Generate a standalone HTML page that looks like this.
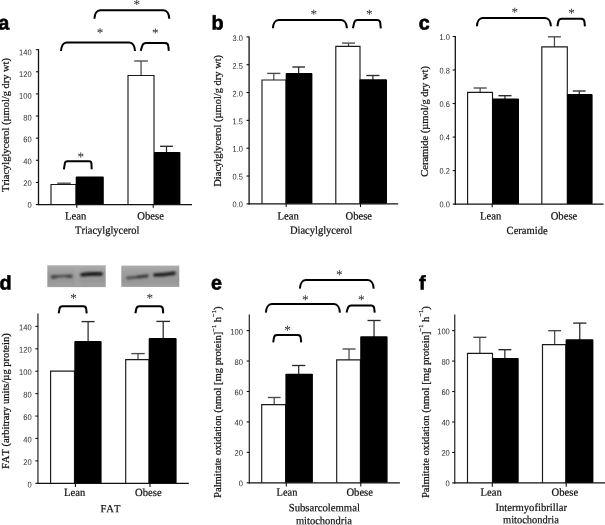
<!DOCTYPE html>
<html><head><meta charset="utf-8"><title>Figure</title>
<style>html,body{margin:0;padding:0;background:#fff;}svg{display:block;will-change:transform;filter:grayscale(1);}svg text{font-kerning:none;}</style>
</head><body>
<svg width="605" height="525" viewBox="0 0 605 525">
<defs><linearGradient id="bg1" x1="0" y1="0" x2="0" y2="1"><stop offset="0" stop-color="#adadad"/><stop offset="0.3" stop-color="#9e9e9e"/><stop offset="0.7" stop-color="#979797"/><stop offset="1" stop-color="#a0a0a0"/></linearGradient><filter id="blur1" x="-10%" y="-50%" width="120%" height="200%"><feGaussianBlur stdDeviation="0.9"/></filter><filter id="blur2" x="-5%" y="-5%" width="110%" height="110%"><feGaussianBlur stdDeviation="0.5"/></filter></defs>
<rect x="0" y="0" width="605" height="525" fill="#fff"/>
<text x="-1.70" y="29.50" font-family='"Liberation Sans", sans-serif' font-size="19.8" font-weight="bold" text-anchor="start" fill="#000" transform="rotate(0.05 -1.70 29.50)" stroke="#000" stroke-width="0.6" stroke-linejoin="round">a</text>
<text x="211.40" y="29.60" font-family='"Liberation Sans", sans-serif' font-size="19.8" font-weight="bold" text-anchor="start" fill="#000" transform="rotate(0.05 211.40 29.60)" stroke="#000" stroke-width="0.6" stroke-linejoin="round">b</text>
<text x="418.70" y="29.60" font-family='"Liberation Sans", sans-serif' font-size="19.8" font-weight="bold" text-anchor="start" fill="#000" transform="rotate(0.05 418.70 29.60)" stroke="#000" stroke-width="0.6" stroke-linejoin="round">c</text>
<text x="-0.50" y="289.50" font-family='"Liberation Sans", sans-serif' font-size="19.8" font-weight="bold" text-anchor="start" fill="#000" transform="rotate(0.05 -0.50 289.50)" stroke="#000" stroke-width="0.6" stroke-linejoin="round">d</text>
<text x="210.90" y="289.50" font-family='"Liberation Sans", sans-serif' font-size="19.8" font-weight="bold" text-anchor="start" fill="#000" transform="rotate(0.05 210.90 289.50)" stroke="#000" stroke-width="0.6" stroke-linejoin="round">e</text>
<text x="419.10" y="289.60" font-family='"Liberation Sans", sans-serif' font-size="19.8" font-weight="bold" text-anchor="start" fill="#000" transform="rotate(0.05 419.10 289.60)" stroke="#000" stroke-width="0.6" stroke-linejoin="round">f</text>
<line x1="64.05" y1="183.20" x2="64.05" y2="185.10" stroke="#4a4a4a" stroke-width="1.25" stroke-linecap="butt"/>
<line x1="57.30" y1="183.20" x2="70.80" y2="183.20" stroke="#4a4a4a" stroke-width="1.35" stroke-linecap="butt"/>
<line x1="141.05" y1="61.00" x2="141.05" y2="76.10" stroke="#4a4a4a" stroke-width="1.25" stroke-linecap="butt"/>
<line x1="134.20" y1="61.00" x2="147.90" y2="61.00" stroke="#4a4a4a" stroke-width="1.35" stroke-linecap="butt"/>
<line x1="166.50" y1="146.30" x2="166.50" y2="152.90" stroke="#2a2a2a" stroke-width="1.25" stroke-linecap="butt"/>
<line x1="160.10" y1="146.30" x2="172.90" y2="146.30" stroke="#2a2a2a" stroke-width="1.35" stroke-linecap="butt"/>
<path d="M51.00,204.55 V184.50 H76.00 V204.55" fill="#fff" stroke="#1a1a1a" stroke-width="1.15" stroke-linejoin="miter"/>
<path d="M128.00,204.55 V75.50 H154.00 V204.55" fill="#fff" stroke="#1a1a1a" stroke-width="1.15" stroke-linejoin="miter"/>
<rect x="75.70" y="176.60" width="28.10" height="27.95" fill="#000" rx="0.9"/>
<rect x="154.00" y="151.90" width="26.40" height="52.65" fill="#000" rx="0.9"/>
<line x1="38.50" y1="49.15" x2="38.50" y2="205.15" stroke="#111" stroke-width="1.3" stroke-linecap="butt"/>
<line x1="37.90" y1="204.55" x2="192.00" y2="204.55" stroke="#111" stroke-width="1.3" stroke-linecap="butt"/>
<line x1="35.90" y1="204.55" x2="38.50" y2="204.55" stroke="#111" stroke-width="1.1" stroke-linecap="butt"/>
<text x="31.70" y="207.75" font-family='"Liberation Sans", sans-serif' font-size="8.2" font-weight="normal" text-anchor="end" fill="#2a2a2a" textLength="4.20" lengthAdjust="spacingAndGlyphs" transform="rotate(0.05 31.70 207.75)">0</text>
<line x1="35.90" y1="182.42" x2="38.50" y2="182.42" stroke="#111" stroke-width="1.1" stroke-linecap="butt"/>
<text x="31.70" y="185.95" font-family='"Liberation Sans", sans-serif' font-size="8.2" font-weight="normal" text-anchor="end" fill="#2a2a2a" textLength="8.40" lengthAdjust="spacingAndGlyphs" transform="rotate(0.05 31.70 185.95)">20</text>
<line x1="35.90" y1="160.29" x2="38.50" y2="160.29" stroke="#111" stroke-width="1.1" stroke-linecap="butt"/>
<text x="31.70" y="164.15" font-family='"Liberation Sans", sans-serif' font-size="8.2" font-weight="normal" text-anchor="end" fill="#2a2a2a" textLength="8.40" lengthAdjust="spacingAndGlyphs" transform="rotate(0.05 31.70 164.15)">40</text>
<line x1="35.90" y1="138.16" x2="38.50" y2="138.16" stroke="#111" stroke-width="1.1" stroke-linecap="butt"/>
<text x="31.70" y="142.35" font-family='"Liberation Sans", sans-serif' font-size="8.2" font-weight="normal" text-anchor="end" fill="#2a2a2a" textLength="8.40" lengthAdjust="spacingAndGlyphs" transform="rotate(0.05 31.70 142.35)">60</text>
<line x1="35.90" y1="116.04" x2="38.50" y2="116.04" stroke="#111" stroke-width="1.1" stroke-linecap="butt"/>
<text x="31.70" y="120.55" font-family='"Liberation Sans", sans-serif' font-size="8.2" font-weight="normal" text-anchor="end" fill="#2a2a2a" textLength="8.40" lengthAdjust="spacingAndGlyphs" transform="rotate(0.05 31.70 120.55)">80</text>
<line x1="35.90" y1="93.91" x2="38.50" y2="93.91" stroke="#111" stroke-width="1.1" stroke-linecap="butt"/>
<text x="31.70" y="98.75" font-family='"Liberation Sans", sans-serif' font-size="8.2" font-weight="normal" text-anchor="end" fill="#2a2a2a" textLength="12.60" lengthAdjust="spacingAndGlyphs" transform="rotate(0.05 31.70 98.75)">100</text>
<line x1="35.90" y1="71.78" x2="38.50" y2="71.78" stroke="#111" stroke-width="1.1" stroke-linecap="butt"/>
<text x="31.70" y="76.95" font-family='"Liberation Sans", sans-serif' font-size="8.2" font-weight="normal" text-anchor="end" fill="#2a2a2a" textLength="12.60" lengthAdjust="spacingAndGlyphs" transform="rotate(0.05 31.70 76.95)">120</text>
<line x1="35.90" y1="49.65" x2="38.50" y2="49.65" stroke="#111" stroke-width="1.1" stroke-linecap="butt"/>
<text x="31.70" y="55.15" font-family='"Liberation Sans", sans-serif' font-size="8.2" font-weight="normal" text-anchor="end" fill="#2a2a2a" textLength="12.60" lengthAdjust="spacingAndGlyphs" transform="rotate(0.05 31.70 55.15)">140</text>
<line x1="76.80" y1="204.55" x2="76.80" y2="207.75" stroke="#111" stroke-width="1.1" stroke-linecap="butt"/>
<line x1="153.20" y1="204.55" x2="153.20" y2="207.75" stroke="#111" stroke-width="1.1" stroke-linecap="butt"/>
<text x="65.00" y="219.50" font-family='"Liberation Serif", serif' font-size="11.0" font-weight="normal" text-anchor="start" fill="#111" textLength="21.30" lengthAdjust="spacingAndGlyphs" transform="rotate(0.05 65.00 219.50)" stroke="#111" stroke-width="0.22">Lean</text>
<text x="137.30" y="219.50" font-family='"Liberation Serif", serif' font-size="11.0" font-weight="normal" text-anchor="start" fill="#111" textLength="26.60" lengthAdjust="spacingAndGlyphs" transform="rotate(0.05 137.30 219.50)" stroke="#111" stroke-width="0.22">Obese</text>
<text x="75.00" y="233.80" font-family='"Liberation Serif", serif' font-size="11.0" font-weight="normal" text-anchor="start" fill="#111" textLength="64.50" lengthAdjust="spacingAndGlyphs" transform="rotate(0.05 75.00 233.80)" stroke="#111" stroke-width="0.22">Triacylglycerol</text>
<text x="9.10" y="191.90" font-family='"Liberation Serif", serif' font-size="11.0" font-weight="normal" text-anchor="start" fill="#111" textLength="133.90" lengthAdjust="spacingAndGlyphs" transform="rotate(-90 9.10 191.90)" stroke="#111" stroke-width="0.22">Triacylglycerol (µmol/g dry wt)</text>
<path d="M94.40,18.70 C94.65,13.77 96.84,10.20 100.20,10.20 L163.50,10.20 C166.86,10.20 169.05,13.77 169.30,18.70" fill="none" stroke="#000" stroke-width="2.0" stroke-linecap="butt" stroke-linejoin="round"/>
<path d="M61.00,51.00 C61.25,46.01 63.44,42.40 66.80,42.40 L129.20,42.40 C132.56,42.40 134.75,46.01 135.00,51.00" fill="none" stroke="#000" stroke-width="2.0" stroke-linecap="butt" stroke-linejoin="round"/>
<path d="M140.70,50.90 L142.19,46.00 Q143.10,43.00 146.10,43.00 L165.00,43.00 Q168.00,43.00 168.30,46.00 L168.80,50.90" fill="none" stroke="#000" stroke-width="2.0" stroke-linecap="butt" stroke-linejoin="round"/>
<path d="M63.90,169.30 L64.85,163.40 Q65.20,161.20 67.40,161.20 L89.10,161.20 Q91.30,161.20 91.41,163.40 L91.70,169.30" fill="none" stroke="#000" stroke-width="2.0" stroke-linecap="butt" stroke-linejoin="round"/>
<text x="136.70" y="8.80" font-family='"Liberation Serif", serif' font-size="13.2" font-weight="normal" text-anchor="middle" fill="#111" transform="rotate(0.05 136.70 8.80)">*</text>
<text x="100.00" y="37.10" font-family='"Liberation Serif", serif' font-size="13.2" font-weight="normal" text-anchor="middle" fill="#111" transform="rotate(0.05 100.00 37.10)">*</text>
<text x="155.20" y="37.20" font-family='"Liberation Serif", serif' font-size="13.2" font-weight="normal" text-anchor="middle" fill="#111" transform="rotate(0.05 155.20 37.20)">*</text>
<text x="80.90" y="161.20" font-family='"Liberation Serif", serif' font-size="13.2" font-weight="normal" text-anchor="middle" fill="#111" transform="rotate(0.05 80.90 161.20)">*</text>
<line x1="273.80" y1="73.40" x2="273.80" y2="80.60" stroke="#4a4a4a" stroke-width="1.25" stroke-linecap="butt"/>
<line x1="267.20" y1="73.40" x2="280.40" y2="73.40" stroke="#4a4a4a" stroke-width="1.35" stroke-linecap="butt"/>
<line x1="298.65" y1="67.00" x2="298.65" y2="74.10" stroke="#2a2a2a" stroke-width="1.25" stroke-linecap="butt"/>
<line x1="292.30" y1="67.00" x2="305.00" y2="67.00" stroke="#2a2a2a" stroke-width="1.35" stroke-linecap="butt"/>
<line x1="348.50" y1="43.10" x2="348.50" y2="47.00" stroke="#4a4a4a" stroke-width="1.25" stroke-linecap="butt"/>
<line x1="342.00" y1="43.10" x2="355.00" y2="43.10" stroke="#4a4a4a" stroke-width="1.35" stroke-linecap="butt"/>
<line x1="372.90" y1="75.50" x2="372.90" y2="80.30" stroke="#2a2a2a" stroke-width="1.25" stroke-linecap="butt"/>
<line x1="366.30" y1="75.50" x2="379.50" y2="75.50" stroke="#2a2a2a" stroke-width="1.35" stroke-linecap="butt"/>
<path d="M262.00,203.85 V80.00 H286.00 V203.85" fill="#fff" stroke="#1a1a1a" stroke-width="1.15" stroke-linejoin="miter"/>
<path d="M335.80,203.85 V46.40 H360.00 V203.85" fill="#fff" stroke="#1a1a1a" stroke-width="1.15" stroke-linejoin="miter"/>
<rect x="285.70" y="73.10" width="26.70" height="130.75" fill="#000" rx="0.9"/>
<rect x="359.50" y="79.30" width="27.50" height="124.55" fill="#000" rx="0.9"/>
<line x1="249.10" y1="36.40" x2="249.10" y2="204.45" stroke="#111" stroke-width="1.3" stroke-linecap="butt"/>
<line x1="248.50" y1="203.85" x2="398.20" y2="203.85" stroke="#111" stroke-width="1.3" stroke-linecap="butt"/>
<line x1="246.50" y1="203.85" x2="249.10" y2="203.85" stroke="#111" stroke-width="1.1" stroke-linecap="butt"/>
<text x="242.90" y="207.25" font-family='"Liberation Sans", sans-serif' font-size="8.2" font-weight="normal" text-anchor="end" fill="#2a2a2a" textLength="10.30" lengthAdjust="spacingAndGlyphs" transform="rotate(0.05 242.90 207.25)">0.0</text>
<line x1="246.50" y1="176.03" x2="249.10" y2="176.03" stroke="#111" stroke-width="1.1" stroke-linecap="butt"/>
<text x="242.90" y="179.55" font-family='"Liberation Sans", sans-serif' font-size="8.2" font-weight="normal" text-anchor="end" fill="#2a2a2a" textLength="10.30" lengthAdjust="spacingAndGlyphs" transform="rotate(0.05 242.90 179.55)">0.5</text>
<line x1="246.50" y1="148.20" x2="249.10" y2="148.20" stroke="#111" stroke-width="1.1" stroke-linecap="butt"/>
<text x="242.90" y="151.85" font-family='"Liberation Sans", sans-serif' font-size="8.2" font-weight="normal" text-anchor="end" fill="#2a2a2a" textLength="10.30" lengthAdjust="spacingAndGlyphs" transform="rotate(0.05 242.90 151.85)">1.0</text>
<line x1="246.50" y1="120.38" x2="249.10" y2="120.38" stroke="#111" stroke-width="1.1" stroke-linecap="butt"/>
<text x="242.90" y="124.15" font-family='"Liberation Sans", sans-serif' font-size="8.2" font-weight="normal" text-anchor="end" fill="#2a2a2a" textLength="10.30" lengthAdjust="spacingAndGlyphs" transform="rotate(0.05 242.90 124.15)">1.5</text>
<line x1="246.50" y1="92.55" x2="249.10" y2="92.55" stroke="#111" stroke-width="1.1" stroke-linecap="butt"/>
<text x="242.90" y="96.45" font-family='"Liberation Sans", sans-serif' font-size="8.2" font-weight="normal" text-anchor="end" fill="#2a2a2a" textLength="10.30" lengthAdjust="spacingAndGlyphs" transform="rotate(0.05 242.90 96.45)">2.0</text>
<line x1="246.50" y1="64.72" x2="249.10" y2="64.72" stroke="#111" stroke-width="1.1" stroke-linecap="butt"/>
<text x="242.90" y="68.75" font-family='"Liberation Sans", sans-serif' font-size="8.2" font-weight="normal" text-anchor="end" fill="#2a2a2a" textLength="10.30" lengthAdjust="spacingAndGlyphs" transform="rotate(0.05 242.90 68.75)">2.5</text>
<line x1="246.50" y1="36.90" x2="249.10" y2="36.90" stroke="#111" stroke-width="1.1" stroke-linecap="butt"/>
<text x="242.90" y="41.05" font-family='"Liberation Sans", sans-serif' font-size="8.2" font-weight="normal" text-anchor="end" fill="#2a2a2a" textLength="10.30" lengthAdjust="spacingAndGlyphs" transform="rotate(0.05 242.90 41.05)">3.0</text>
<line x1="286.20" y1="203.85" x2="286.20" y2="207.05" stroke="#111" stroke-width="1.1" stroke-linecap="butt"/>
<line x1="360.50" y1="203.85" x2="360.50" y2="207.05" stroke="#111" stroke-width="1.1" stroke-linecap="butt"/>
<text x="277.50" y="219.50" font-family='"Liberation Serif", serif' font-size="11.0" font-weight="normal" text-anchor="start" fill="#111" textLength="21.30" lengthAdjust="spacingAndGlyphs" transform="rotate(0.05 277.50 219.50)" stroke="#111" stroke-width="0.22">Lean</text>
<text x="345.50" y="219.50" font-family='"Liberation Serif", serif' font-size="11.0" font-weight="normal" text-anchor="start" fill="#111" textLength="26.60" lengthAdjust="spacingAndGlyphs" transform="rotate(0.05 345.50 219.50)" stroke="#111" stroke-width="0.22">Obese</text>
<text x="289.90" y="233.80" font-family='"Liberation Serif", serif' font-size="11.0" font-weight="normal" text-anchor="start" fill="#111" textLength="62.40" lengthAdjust="spacingAndGlyphs" transform="rotate(0.05 289.90 233.80)" stroke="#111" stroke-width="0.22">Diacylglycerol</text>
<text x="220.60" y="186.70" font-family='"Liberation Serif", serif' font-size="11.0" font-weight="normal" text-anchor="start" fill="#111" textLength="131.80" lengthAdjust="spacingAndGlyphs" transform="rotate(-90 220.60 186.70)" stroke="#111" stroke-width="0.22">Diacylglycerol (µmol/g dry wt)</text>
<path d="M272.90,28.30 C273.15,23.43 275.34,19.90 278.70,19.90 L341.10,19.90 C344.46,19.90 346.65,23.43 346.90,28.30" fill="none" stroke="#000" stroke-width="2.0" stroke-linecap="butt" stroke-linejoin="round"/>
<path d="M352.90,28.30 L354.04,23.10 Q354.70,20.10 357.70,20.10 L377.00,20.10 Q380.00,20.10 380.29,23.10 L380.80,28.30" fill="none" stroke="#000" stroke-width="2.0" stroke-linecap="butt" stroke-linejoin="round"/>
<text x="313.70" y="18.50" font-family='"Liberation Serif", serif' font-size="13.2" font-weight="normal" text-anchor="middle" fill="#111" transform="rotate(0.05 313.70 18.50)">*</text>
<text x="369.40" y="18.40" font-family='"Liberation Serif", serif' font-size="13.2" font-weight="normal" text-anchor="middle" fill="#111" transform="rotate(0.05 369.40 18.40)">*</text>
<line x1="480.15" y1="88.00" x2="480.15" y2="92.90" stroke="#4a4a4a" stroke-width="1.25" stroke-linecap="butt"/>
<line x1="473.60" y1="88.00" x2="486.70" y2="88.00" stroke="#4a4a4a" stroke-width="1.35" stroke-linecap="butt"/>
<line x1="504.95" y1="95.70" x2="504.95" y2="99.50" stroke="#2a2a2a" stroke-width="1.25" stroke-linecap="butt"/>
<line x1="498.40" y1="95.70" x2="511.50" y2="95.70" stroke="#2a2a2a" stroke-width="1.35" stroke-linecap="butt"/>
<line x1="554.45" y1="36.80" x2="554.45" y2="47.40" stroke="#4a4a4a" stroke-width="1.25" stroke-linecap="butt"/>
<line x1="548.00" y1="36.80" x2="560.90" y2="36.80" stroke="#4a4a4a" stroke-width="1.35" stroke-linecap="butt"/>
<line x1="579.25" y1="91.00" x2="579.25" y2="95.10" stroke="#2a2a2a" stroke-width="1.25" stroke-linecap="butt"/>
<line x1="572.80" y1="91.00" x2="585.70" y2="91.00" stroke="#2a2a2a" stroke-width="1.35" stroke-linecap="butt"/>
<path d="M467.60,204.10 V92.30 H492.50 V204.10" fill="#fff" stroke="#1a1a1a" stroke-width="1.15" stroke-linejoin="miter"/>
<path d="M541.80,204.10 V46.80 H567.30 V204.10" fill="#fff" stroke="#1a1a1a" stroke-width="1.15" stroke-linejoin="miter"/>
<rect x="492.20" y="98.50" width="26.80" height="105.60" fill="#000" rx="0.9"/>
<rect x="567.10" y="94.10" width="25.50" height="110.00" fill="#000" rx="0.9"/>
<line x1="455.30" y1="35.90" x2="455.30" y2="204.70" stroke="#111" stroke-width="1.3" stroke-linecap="butt"/>
<line x1="454.70" y1="204.10" x2="603.60" y2="204.10" stroke="#111" stroke-width="1.3" stroke-linecap="butt"/>
<line x1="452.70" y1="204.10" x2="455.30" y2="204.10" stroke="#111" stroke-width="1.1" stroke-linecap="butt"/>
<text x="449.80" y="207.25" font-family='"Liberation Sans", sans-serif' font-size="8.2" font-weight="normal" text-anchor="end" fill="#2a2a2a" textLength="10.30" lengthAdjust="spacingAndGlyphs" transform="rotate(0.05 449.80 207.25)">0.0</text>
<line x1="452.70" y1="170.58" x2="455.30" y2="170.58" stroke="#111" stroke-width="1.1" stroke-linecap="butt"/>
<text x="449.80" y="173.81" font-family='"Liberation Sans", sans-serif' font-size="8.2" font-weight="normal" text-anchor="end" fill="#2a2a2a" textLength="10.30" lengthAdjust="spacingAndGlyphs" transform="rotate(0.05 449.80 173.81)">0.2</text>
<line x1="452.70" y1="137.06" x2="455.30" y2="137.06" stroke="#111" stroke-width="1.1" stroke-linecap="butt"/>
<text x="449.80" y="140.37" font-family='"Liberation Sans", sans-serif' font-size="8.2" font-weight="normal" text-anchor="end" fill="#2a2a2a" textLength="10.30" lengthAdjust="spacingAndGlyphs" transform="rotate(0.05 449.80 140.37)">0.4</text>
<line x1="452.70" y1="103.54" x2="455.30" y2="103.54" stroke="#111" stroke-width="1.1" stroke-linecap="butt"/>
<text x="449.80" y="106.93" font-family='"Liberation Sans", sans-serif' font-size="8.2" font-weight="normal" text-anchor="end" fill="#2a2a2a" textLength="10.30" lengthAdjust="spacingAndGlyphs" transform="rotate(0.05 449.80 106.93)">0.6</text>
<line x1="452.70" y1="70.02" x2="455.30" y2="70.02" stroke="#111" stroke-width="1.1" stroke-linecap="butt"/>
<text x="449.80" y="73.49" font-family='"Liberation Sans", sans-serif' font-size="8.2" font-weight="normal" text-anchor="end" fill="#2a2a2a" textLength="10.30" lengthAdjust="spacingAndGlyphs" transform="rotate(0.05 449.80 73.49)">0.8</text>
<line x1="452.70" y1="36.50" x2="455.30" y2="36.50" stroke="#111" stroke-width="1.1" stroke-linecap="butt"/>
<text x="449.80" y="40.05" font-family='"Liberation Sans", sans-serif' font-size="8.2" font-weight="normal" text-anchor="end" fill="#2a2a2a" textLength="10.30" lengthAdjust="spacingAndGlyphs" transform="rotate(0.05 449.80 40.05)">1.0</text>
<line x1="492.20" y1="204.10" x2="492.20" y2="207.30" stroke="#111" stroke-width="1.1" stroke-linecap="butt"/>
<text x="480.00" y="219.50" font-family='"Liberation Serif", serif' font-size="11.0" font-weight="normal" text-anchor="start" fill="#111" textLength="21.30" lengthAdjust="spacingAndGlyphs" transform="rotate(0.05 480.00 219.50)" stroke="#111" stroke-width="0.22">Lean</text>
<text x="550.70" y="219.50" font-family='"Liberation Serif", serif' font-size="11.0" font-weight="normal" text-anchor="start" fill="#111" textLength="26.60" lengthAdjust="spacingAndGlyphs" transform="rotate(0.05 550.70 219.50)" stroke="#111" stroke-width="0.22">Obese</text>
<text x="506.60" y="234.10" font-family='"Liberation Serif", serif' font-size="11.0" font-weight="normal" text-anchor="start" fill="#111" textLength="41.00" lengthAdjust="spacingAndGlyphs" transform="rotate(0.05 506.60 234.10)" stroke="#111" stroke-width="0.22">Ceramide</text>
<text x="428.40" y="176.70" font-family='"Liberation Serif", serif' font-size="11.0" font-weight="normal" text-anchor="start" fill="#111" textLength="110.70" lengthAdjust="spacingAndGlyphs" transform="rotate(-90 428.40 176.70)" stroke="#111" stroke-width="0.22">Ceramide (µmol/g dry wt)</text>
<path d="M476.90,26.30 C477.15,21.43 479.34,17.90 482.70,17.90 L545.10,17.90 C548.46,17.90 550.65,21.43 550.90,26.30" fill="none" stroke="#000" stroke-width="2.0" stroke-linecap="butt" stroke-linejoin="round"/>
<path d="M557.40,26.30 L558.25,21.70 Q558.80,18.70 561.80,18.70 L581.10,18.70 Q584.10,18.70 584.42,21.70 L584.90,26.30" fill="none" stroke="#000" stroke-width="2.0" stroke-linecap="butt" stroke-linejoin="round"/>
<text x="514.70" y="16.50" font-family='"Liberation Serif", serif' font-size="13.2" font-weight="normal" text-anchor="middle" fill="#111" transform="rotate(0.05 514.70 16.50)">*</text>
<text x="571.50" y="17.60" font-family='"Liberation Serif", serif' font-size="13.2" font-weight="normal" text-anchor="middle" fill="#111" transform="rotate(0.05 571.50 17.60)">*</text>
<line x1="88.10" y1="321.60" x2="88.10" y2="342.00" stroke="#2a2a2a" stroke-width="1.25" stroke-linecap="butt"/>
<line x1="81.60" y1="321.60" x2="94.60" y2="321.60" stroke="#2a2a2a" stroke-width="1.35" stroke-linecap="butt"/>
<line x1="138.00" y1="353.60" x2="138.00" y2="360.20" stroke="#4a4a4a" stroke-width="1.25" stroke-linecap="butt"/>
<line x1="131.30" y1="353.60" x2="144.70" y2="353.60" stroke="#4a4a4a" stroke-width="1.35" stroke-linecap="butt"/>
<line x1="163.20" y1="321.40" x2="163.20" y2="339.10" stroke="#2a2a2a" stroke-width="1.25" stroke-linecap="butt"/>
<line x1="156.40" y1="321.40" x2="170.00" y2="321.40" stroke="#2a2a2a" stroke-width="1.35" stroke-linecap="butt"/>
<path d="M50.60,483.30 V371.10 H74.50 V483.30" fill="#fff" stroke="#1a1a1a" stroke-width="1.15" stroke-linejoin="miter"/>
<path d="M125.70,483.30 V359.60 H149.00 V483.30" fill="#fff" stroke="#1a1a1a" stroke-width="1.15" stroke-linejoin="miter"/>
<rect x="74.30" y="341.00" width="27.30" height="142.30" fill="#000" rx="0.9"/>
<rect x="148.70" y="338.10" width="27.90" height="145.20" fill="#000" rx="0.9"/>
<line x1="37.95" y1="313.40" x2="37.95" y2="483.90" stroke="#222" stroke-width="1.2" stroke-linecap="butt"/>
<line x1="37.35" y1="483.30" x2="188.80" y2="483.30" stroke="#111" stroke-width="1.3" stroke-linecap="butt"/>
<line x1="35.35" y1="483.30" x2="37.95" y2="483.30" stroke="#111" stroke-width="1.1" stroke-linecap="butt"/>
<text x="31.65" y="487.55" font-family='"Liberation Sans", sans-serif' font-size="8.2" font-weight="normal" text-anchor="end" fill="#2a2a2a" textLength="4.20" lengthAdjust="spacingAndGlyphs" transform="rotate(0.05 31.65 487.55)">0</text>
<line x1="35.35" y1="460.89" x2="37.95" y2="460.89" stroke="#111" stroke-width="1.1" stroke-linecap="butt"/>
<text x="31.65" y="465.06" font-family='"Liberation Sans", sans-serif' font-size="8.2" font-weight="normal" text-anchor="end" fill="#2a2a2a" textLength="8.40" lengthAdjust="spacingAndGlyphs" transform="rotate(0.05 31.65 465.06)">20</text>
<line x1="35.35" y1="438.47" x2="37.95" y2="438.47" stroke="#111" stroke-width="1.1" stroke-linecap="butt"/>
<text x="31.65" y="442.58" font-family='"Liberation Sans", sans-serif' font-size="8.2" font-weight="normal" text-anchor="end" fill="#2a2a2a" textLength="8.40" lengthAdjust="spacingAndGlyphs" transform="rotate(0.05 31.65 442.58)">40</text>
<line x1="35.35" y1="416.06" x2="37.95" y2="416.06" stroke="#111" stroke-width="1.1" stroke-linecap="butt"/>
<text x="31.65" y="420.09" font-family='"Liberation Sans", sans-serif' font-size="8.2" font-weight="normal" text-anchor="end" fill="#2a2a2a" textLength="8.40" lengthAdjust="spacingAndGlyphs" transform="rotate(0.05 31.65 420.09)">60</text>
<line x1="35.35" y1="393.64" x2="37.95" y2="393.64" stroke="#111" stroke-width="1.1" stroke-linecap="butt"/>
<text x="31.65" y="397.61" font-family='"Liberation Sans", sans-serif' font-size="8.2" font-weight="normal" text-anchor="end" fill="#2a2a2a" textLength="8.40" lengthAdjust="spacingAndGlyphs" transform="rotate(0.05 31.65 397.61)">80</text>
<line x1="35.35" y1="371.23" x2="37.95" y2="371.23" stroke="#111" stroke-width="1.1" stroke-linecap="butt"/>
<text x="31.65" y="375.12" font-family='"Liberation Sans", sans-serif' font-size="8.2" font-weight="normal" text-anchor="end" fill="#2a2a2a" textLength="12.60" lengthAdjust="spacingAndGlyphs" transform="rotate(0.05 31.65 375.12)">100</text>
<line x1="35.35" y1="348.81" x2="37.95" y2="348.81" stroke="#111" stroke-width="1.1" stroke-linecap="butt"/>
<text x="31.65" y="352.64" font-family='"Liberation Sans", sans-serif' font-size="8.2" font-weight="normal" text-anchor="end" fill="#2a2a2a" textLength="12.60" lengthAdjust="spacingAndGlyphs" transform="rotate(0.05 31.65 352.64)">120</text>
<line x1="35.35" y1="326.40" x2="37.95" y2="326.40" stroke="#111" stroke-width="1.1" stroke-linecap="butt"/>
<text x="31.65" y="330.15" font-family='"Liberation Sans", sans-serif' font-size="8.2" font-weight="normal" text-anchor="end" fill="#2a2a2a" textLength="12.60" lengthAdjust="spacingAndGlyphs" transform="rotate(0.05 31.65 330.15)">140</text>
<line x1="75.40" y1="483.30" x2="75.40" y2="487.10" stroke="#111" stroke-width="1.1" stroke-linecap="butt"/>
<line x1="150.00" y1="483.30" x2="150.00" y2="487.10" stroke="#111" stroke-width="1.1" stroke-linecap="butt"/>
<text x="64.00" y="496.10" font-family='"Liberation Serif", serif' font-size="11.0" font-weight="normal" text-anchor="start" fill="#111" textLength="21.30" lengthAdjust="spacingAndGlyphs" transform="rotate(0.05 64.00 496.10)" stroke="#111" stroke-width="0.22">Lean</text>
<text x="135.10" y="496.10" font-family='"Liberation Serif", serif' font-size="11.0" font-weight="normal" text-anchor="start" fill="#111" textLength="26.60" lengthAdjust="spacingAndGlyphs" transform="rotate(0.05 135.10 496.10)" stroke="#111" stroke-width="0.22">Obese</text>
<text x="100.40" y="512.20" font-family='"Liberation Serif", serif' font-size="11.0" font-weight="normal" text-anchor="start" fill="#111" textLength="20.00" lengthAdjust="spacingAndGlyphs" transform="rotate(0.05 100.40 512.20)" stroke="#111" stroke-width="0.22">FAT</text>
<text x="8.80" y="469.00" font-family='"Liberation Serif", serif' font-size="11.0" font-weight="normal" text-anchor="start" fill="#111" textLength="135.70" lengthAdjust="spacingAndGlyphs" transform="rotate(-90 8.80 469.00)" stroke="#111" stroke-width="0.22">FAT (arbitrary units/µg protein)</text>
<path d="M58.70,313.30 L59.46,308.80 Q59.90,306.20 62.50,306.20 L83.30,306.20 Q85.90,306.20 86.19,308.80 L86.70,313.30" fill="none" stroke="#000" stroke-width="2.0" stroke-linecap="butt" stroke-linejoin="round"/>
<path d="M135.40,313.30 L136.29,308.80 Q136.80,306.20 139.40,306.20 L160.00,306.20 Q162.60,306.20 162.82,308.80 L163.20,313.30" fill="none" stroke="#000" stroke-width="2.0" stroke-linecap="butt" stroke-linejoin="round"/>
<text x="73.60" y="302.40" font-family='"Liberation Serif", serif' font-size="13.2" font-weight="normal" text-anchor="middle" fill="#111" transform="rotate(0.05 73.60 302.40)">*</text>
<text x="149.90" y="302.40" font-family='"Liberation Serif", serif' font-size="13.2" font-weight="normal" text-anchor="middle" fill="#111" transform="rotate(0.05 149.90 302.40)">*</text>
<g filter="url(#blur2)">
<rect x="47.3" y="265.3" width="58.4" height="21.8" fill="url(#bg1)"/>
<rect x="74" y="266" width="6.5" height="20.5" fill="#b0b0b0" opacity="0.3" filter="url(#blur1)"/>
<rect x="121.3" y="265.6" width="58.0" height="21.3" fill="url(#bg1)"/>
</g>
<g filter="url(#blur1)" fill="none" stroke-linecap="round">
<path d="M52.6,276.9 Q62,275.7 71.0,276.2" stroke="#4a4a4a" stroke-width="2.6"/>
<path d="M52.6,277.0 L55.5,276.7 M68.0,276.2 L71.0,276.3" stroke="#444" stroke-width="3.6"/>
<path d="M82.0,274.7 Q91.5,273.6 101.0,274.0" stroke="#151515" stroke-width="3.6"/>
<path d="M127.4,278.0 Q137,277.4 147.2,275.9" stroke="#505050" stroke-width="2.8"/>
<path d="M138,277.0 L147.0,276.0" stroke="#3a3a3a" stroke-width="3.0"/>
<path d="M155.0,275.0 Q165,274.7 174.0,273.2" stroke="#1c1c1c" stroke-width="3.6"/>
</g>
<line x1="274.20" y1="397.50" x2="274.20" y2="405.20" stroke="#4a4a4a" stroke-width="1.25" stroke-linecap="butt"/>
<line x1="267.80" y1="397.50" x2="280.60" y2="397.50" stroke="#4a4a4a" stroke-width="1.35" stroke-linecap="butt"/>
<line x1="298.70" y1="365.50" x2="298.70" y2="374.70" stroke="#2a2a2a" stroke-width="1.25" stroke-linecap="butt"/>
<line x1="292.10" y1="365.50" x2="305.30" y2="365.50" stroke="#2a2a2a" stroke-width="1.35" stroke-linecap="butt"/>
<line x1="349.05" y1="349.00" x2="349.05" y2="360.40" stroke="#4a4a4a" stroke-width="1.25" stroke-linecap="butt"/>
<line x1="342.50" y1="349.00" x2="355.60" y2="349.00" stroke="#4a4a4a" stroke-width="1.35" stroke-linecap="butt"/>
<line x1="374.05" y1="320.50" x2="374.05" y2="337.20" stroke="#2a2a2a" stroke-width="1.25" stroke-linecap="butt"/>
<line x1="367.50" y1="320.50" x2="380.60" y2="320.50" stroke="#2a2a2a" stroke-width="1.35" stroke-linecap="butt"/>
<path d="M261.70,482.80 V404.60 H285.60 V482.80" fill="#fff" stroke="#1a1a1a" stroke-width="1.15" stroke-linejoin="miter"/>
<path d="M336.70,482.80 V359.80 H360.40 V482.80" fill="#fff" stroke="#1a1a1a" stroke-width="1.15" stroke-linejoin="miter"/>
<rect x="285.40" y="373.70" width="27.50" height="109.10" fill="#000" rx="0.9"/>
<rect x="360.20" y="336.20" width="27.40" height="146.60" fill="#000" rx="0.9"/>
<line x1="249.30" y1="314.60" x2="249.30" y2="483.40" stroke="#222" stroke-width="1.2" stroke-linecap="butt"/>
<line x1="248.70" y1="482.80" x2="399.90" y2="482.80" stroke="#111" stroke-width="1.3" stroke-linecap="butt"/>
<line x1="246.70" y1="482.80" x2="249.30" y2="482.80" stroke="#111" stroke-width="1.1" stroke-linecap="butt"/>
<text x="242.90" y="486.15" font-family='"Liberation Sans", sans-serif' font-size="8.2" font-weight="normal" text-anchor="end" fill="#2a2a2a" textLength="4.20" lengthAdjust="spacingAndGlyphs" transform="rotate(0.05 242.90 486.15)">0</text>
<line x1="246.70" y1="452.36" x2="249.30" y2="452.36" stroke="#111" stroke-width="1.1" stroke-linecap="butt"/>
<text x="242.90" y="455.87" font-family='"Liberation Sans", sans-serif' font-size="8.2" font-weight="normal" text-anchor="end" fill="#2a2a2a" textLength="8.40" lengthAdjust="spacingAndGlyphs" transform="rotate(0.05 242.90 455.87)">20</text>
<line x1="246.70" y1="421.92" x2="249.30" y2="421.92" stroke="#111" stroke-width="1.1" stroke-linecap="butt"/>
<text x="242.90" y="425.59" font-family='"Liberation Sans", sans-serif' font-size="8.2" font-weight="normal" text-anchor="end" fill="#2a2a2a" textLength="8.40" lengthAdjust="spacingAndGlyphs" transform="rotate(0.05 242.90 425.59)">40</text>
<line x1="246.70" y1="391.48" x2="249.30" y2="391.48" stroke="#111" stroke-width="1.1" stroke-linecap="butt"/>
<text x="242.90" y="395.31" font-family='"Liberation Sans", sans-serif' font-size="8.2" font-weight="normal" text-anchor="end" fill="#2a2a2a" textLength="8.40" lengthAdjust="spacingAndGlyphs" transform="rotate(0.05 242.90 395.31)">60</text>
<line x1="246.70" y1="361.04" x2="249.30" y2="361.04" stroke="#111" stroke-width="1.1" stroke-linecap="butt"/>
<text x="242.90" y="365.03" font-family='"Liberation Sans", sans-serif' font-size="8.2" font-weight="normal" text-anchor="end" fill="#2a2a2a" textLength="8.40" lengthAdjust="spacingAndGlyphs" transform="rotate(0.05 242.90 365.03)">80</text>
<line x1="246.70" y1="330.60" x2="249.30" y2="330.60" stroke="#111" stroke-width="1.1" stroke-linecap="butt"/>
<text x="242.90" y="334.75" font-family='"Liberation Sans", sans-serif' font-size="8.2" font-weight="normal" text-anchor="end" fill="#2a2a2a" textLength="12.60" lengthAdjust="spacingAndGlyphs" transform="rotate(0.05 242.90 334.75)">100</text>
<line x1="286.30" y1="482.80" x2="286.30" y2="486.60" stroke="#111" stroke-width="1.1" stroke-linecap="butt"/>
<line x1="360.80" y1="482.80" x2="360.80" y2="486.60" stroke="#111" stroke-width="1.1" stroke-linecap="butt"/>
<text x="276.60" y="495.80" font-family='"Liberation Serif", serif' font-size="11.0" font-weight="normal" text-anchor="start" fill="#111" textLength="20.80" lengthAdjust="spacingAndGlyphs" transform="rotate(0.05 276.60 495.80)" stroke="#111" stroke-width="0.22">Lean</text>
<text x="346.40" y="495.80" font-family='"Liberation Serif", serif' font-size="11.0" font-weight="normal" text-anchor="start" fill="#111" textLength="26.60" lengthAdjust="spacingAndGlyphs" transform="rotate(0.05 346.40 495.80)" stroke="#111" stroke-width="0.22">Obese</text>
<text x="288.70" y="511.30" font-family='"Liberation Serif", serif' font-size="11.0" font-weight="normal" text-anchor="start" fill="#111" textLength="71.20" lengthAdjust="spacingAndGlyphs" transform="rotate(0.05 288.70 511.30)" stroke="#111" stroke-width="0.22">Subsarcolemmal</text>
<text x="295.90" y="524.20" font-family='"Liberation Serif", serif' font-size="11.0" font-weight="normal" text-anchor="start" fill="#111" textLength="56.00" lengthAdjust="spacingAndGlyphs" transform="rotate(0.05 295.90 524.20)" stroke="#111" stroke-width="0.22">mitochondria</text>
<text x="221.40" y="497.90" font-family='"Liberation Serif", serif' font-size="11.0" font-weight="normal" text-anchor="start" fill="#111" textLength="191.50" lengthAdjust="spacingAndGlyphs" transform="rotate(-90 221.40 497.90)" stroke="#111" stroke-width="0.22">Palmitate oxidation (nmol [mg protein]<tspan font-size="6.8" dy="-5.4">−1</tspan><tspan dy="5.4"> h</tspan><tspan font-size="6.8" dy="-5.4">−1</tspan><tspan dy="5.4">)</tspan></text>
<path d="M299.90,288.60 C300.15,283.61 302.34,280.00 305.70,280.00 L367.90,280.00 C371.26,280.00 373.45,283.61 373.70,288.60" fill="none" stroke="#000" stroke-width="2.0" stroke-linecap="butt" stroke-linejoin="round"/>
<path d="M265.90,312.60 C266.15,307.67 268.34,304.10 271.70,304.10 L334.10,304.10 C337.46,304.10 339.65,307.67 339.90,312.60" fill="none" stroke="#000" stroke-width="2.0" stroke-linecap="butt" stroke-linejoin="round"/>
<path d="M346.50,312.60 L347.70,308.40 Q348.50,305.60 351.30,305.60 L371.10,305.60 Q373.90,305.60 374.22,308.40 L374.70,312.60" fill="none" stroke="#000" stroke-width="2.0" stroke-linecap="butt" stroke-linejoin="round"/>
<path d="M273.20,342.30 L273.97,337.70 Q274.40,335.10 277.00,335.10 L297.80,335.10 Q300.40,335.10 300.69,337.70 L301.20,342.30" fill="none" stroke="#000" stroke-width="2.0" stroke-linecap="butt" stroke-linejoin="round"/>
<text x="339.40" y="278.90" font-family='"Liberation Serif", serif' font-size="13.2" font-weight="normal" text-anchor="middle" fill="#111" transform="rotate(0.05 339.40 278.90)">*</text>
<text x="305.40" y="303.90" font-family='"Liberation Serif", serif' font-size="13.2" font-weight="normal" text-anchor="middle" fill="#111" transform="rotate(0.05 305.40 303.90)">*</text>
<text x="361.40" y="303.90" font-family='"Liberation Serif", serif' font-size="13.2" font-weight="normal" text-anchor="middle" fill="#111" transform="rotate(0.05 361.40 303.90)">*</text>
<text x="287.60" y="334.40" font-family='"Liberation Serif", serif' font-size="13.2" font-weight="normal" text-anchor="middle" fill="#111" transform="rotate(0.05 287.60 334.40)">*</text>
<line x1="479.85" y1="337.30" x2="479.85" y2="353.90" stroke="#4a4a4a" stroke-width="1.25" stroke-linecap="butt"/>
<line x1="473.30" y1="337.30" x2="486.40" y2="337.30" stroke="#4a4a4a" stroke-width="1.35" stroke-linecap="butt"/>
<line x1="504.85" y1="349.70" x2="504.85" y2="359.00" stroke="#2a2a2a" stroke-width="1.25" stroke-linecap="butt"/>
<line x1="498.40" y1="349.70" x2="511.30" y2="349.70" stroke="#2a2a2a" stroke-width="1.35" stroke-linecap="butt"/>
<line x1="554.65" y1="330.70" x2="554.65" y2="345.20" stroke="#4a4a4a" stroke-width="1.25" stroke-linecap="butt"/>
<line x1="548.20" y1="330.70" x2="561.10" y2="330.70" stroke="#4a4a4a" stroke-width="1.35" stroke-linecap="butt"/>
<line x1="579.75" y1="323.10" x2="579.75" y2="340.20" stroke="#2a2a2a" stroke-width="1.25" stroke-linecap="butt"/>
<line x1="573.20" y1="323.10" x2="586.30" y2="323.10" stroke="#2a2a2a" stroke-width="1.35" stroke-linecap="butt"/>
<path d="M467.50,482.90 V353.30 H492.50 V482.90" fill="#fff" stroke="#1a1a1a" stroke-width="1.15" stroke-linejoin="miter"/>
<path d="M542.50,482.90 V344.60 H565.80 V482.90" fill="#fff" stroke="#1a1a1a" stroke-width="1.15" stroke-linejoin="miter"/>
<rect x="492.40" y="358.00" width="26.30" height="124.90" fill="#000" rx="0.9"/>
<rect x="565.60" y="339.20" width="27.80" height="143.70" fill="#000" rx="0.9"/>
<line x1="454.75" y1="314.60" x2="454.75" y2="483.50" stroke="#222" stroke-width="1.2" stroke-linecap="butt"/>
<line x1="454.15" y1="482.90" x2="605.50" y2="482.90" stroke="#111" stroke-width="1.3" stroke-linecap="butt"/>
<line x1="452.15" y1="482.90" x2="454.75" y2="482.90" stroke="#111" stroke-width="1.1" stroke-linecap="butt"/>
<text x="449.80" y="486.15" font-family='"Liberation Sans", sans-serif' font-size="8.2" font-weight="normal" text-anchor="end" fill="#2a2a2a" textLength="4.20" lengthAdjust="spacingAndGlyphs" transform="rotate(0.05 449.80 486.15)">0</text>
<line x1="452.15" y1="452.44" x2="454.75" y2="452.44" stroke="#111" stroke-width="1.1" stroke-linecap="butt"/>
<text x="449.80" y="455.79" font-family='"Liberation Sans", sans-serif' font-size="8.2" font-weight="normal" text-anchor="end" fill="#2a2a2a" textLength="8.40" lengthAdjust="spacingAndGlyphs" transform="rotate(0.05 449.80 455.79)">20</text>
<line x1="452.15" y1="421.98" x2="454.75" y2="421.98" stroke="#111" stroke-width="1.1" stroke-linecap="butt"/>
<text x="449.80" y="425.43" font-family='"Liberation Sans", sans-serif' font-size="8.2" font-weight="normal" text-anchor="end" fill="#2a2a2a" textLength="8.40" lengthAdjust="spacingAndGlyphs" transform="rotate(0.05 449.80 425.43)">40</text>
<line x1="452.15" y1="391.52" x2="454.75" y2="391.52" stroke="#111" stroke-width="1.1" stroke-linecap="butt"/>
<text x="449.80" y="395.07" font-family='"Liberation Sans", sans-serif' font-size="8.2" font-weight="normal" text-anchor="end" fill="#2a2a2a" textLength="8.40" lengthAdjust="spacingAndGlyphs" transform="rotate(0.05 449.80 395.07)">60</text>
<line x1="452.15" y1="361.06" x2="454.75" y2="361.06" stroke="#111" stroke-width="1.1" stroke-linecap="butt"/>
<text x="449.80" y="364.71" font-family='"Liberation Sans", sans-serif' font-size="8.2" font-weight="normal" text-anchor="end" fill="#2a2a2a" textLength="8.40" lengthAdjust="spacingAndGlyphs" transform="rotate(0.05 449.80 364.71)">80</text>
<line x1="452.15" y1="330.60" x2="454.75" y2="330.60" stroke="#111" stroke-width="1.1" stroke-linecap="butt"/>
<text x="449.80" y="334.35" font-family='"Liberation Sans", sans-serif' font-size="8.2" font-weight="normal" text-anchor="end" fill="#2a2a2a" textLength="12.60" lengthAdjust="spacingAndGlyphs" transform="rotate(0.05 449.80 334.35)">100</text>
<line x1="492.30" y1="482.90" x2="492.30" y2="486.70" stroke="#111" stroke-width="1.1" stroke-linecap="butt"/>
<line x1="566.20" y1="482.90" x2="566.20" y2="486.70" stroke="#111" stroke-width="1.1" stroke-linecap="butt"/>
<text x="480.50" y="495.80" font-family='"Liberation Serif", serif' font-size="11.0" font-weight="normal" text-anchor="start" fill="#111" textLength="21.30" lengthAdjust="spacingAndGlyphs" transform="rotate(0.05 480.50 495.80)" stroke="#111" stroke-width="0.22">Lean</text>
<text x="551.60" y="495.80" font-family='"Liberation Serif", serif' font-size="11.0" font-weight="normal" text-anchor="start" fill="#111" textLength="26.60" lengthAdjust="spacingAndGlyphs" transform="rotate(0.05 551.60 495.80)" stroke="#111" stroke-width="0.22">Obese</text>
<text x="495.40" y="510.90" font-family='"Liberation Serif", serif' font-size="11.0" font-weight="normal" text-anchor="start" fill="#111" textLength="71.60" lengthAdjust="spacingAndGlyphs" transform="rotate(0.05 495.40 510.90)" stroke="#111" stroke-width="0.22">Intermyofibrillar</text>
<text x="503.00" y="523.30" font-family='"Liberation Serif", serif' font-size="11.0" font-weight="normal" text-anchor="start" fill="#111" textLength="55.80" lengthAdjust="spacingAndGlyphs" transform="rotate(0.05 503.00 523.30)" stroke="#111" stroke-width="0.22">mitochondria</text>
<text x="428.90" y="498.10" font-family='"Liberation Serif", serif' font-size="11.0" font-weight="normal" text-anchor="start" fill="#111" textLength="192.00" lengthAdjust="spacingAndGlyphs" transform="rotate(-90 428.90 498.10)" stroke="#111" stroke-width="0.22">Palmitate oxidation (nmol [mg protein]<tspan font-size="6.8" dy="-5.4">−1</tspan><tspan dy="5.4"> h</tspan><tspan font-size="6.8" dy="-5.4">−1</tspan><tspan dy="5.4">)</tspan></text>
</svg>
</body></html>
